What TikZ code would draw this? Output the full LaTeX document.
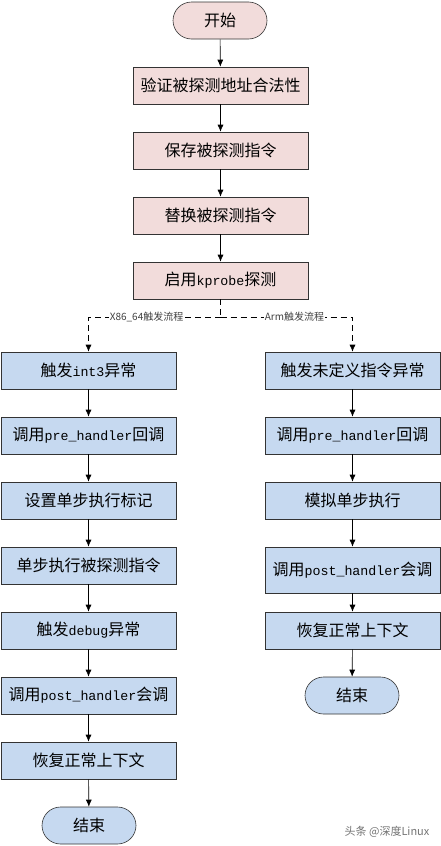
\documentclass[tikz,border=0pt]{standalone}
\usepackage{fontspec}
\setmainfont{Noto Sans CJK SC}
\newfontfamily\monofont{Liberation Mono}
\usetikzlibrary{arrows.meta}
\definecolor{pinkfill}{HTML}{F2DCDB}
\definecolor{bluefill}{HTML}{C6D9F0}
\newcommand{\code}[1]{{\monofont\fontsize{13.3}{16}\selectfont #1}}

\begin{document}
\begin{tikzpicture}%
	[x=1pt, y=-1pt,
	font=\fontsize{16}{19}\selectfont,
	base/.style={draw=black!80, semithick, inner sep=0pt, minimum height=37pt},
	stepbox/.style={base, rectangle, minimum width=175pt},
	termbox/.style={base, rounded corners=18.5pt, minimum width=94pt},
	pinkbox/.style={fill=pinkfill},
	bluebox/.style={fill=bluefill},
	flow/.style={draw=black, semithick, -{Latex[length=7pt,width=6pt]}},
	dashflow/.style={flow, dashed, dash pattern=on 6pt off 4pt},
	branch/.style={fill=white, inner sep=1pt, text=black!75, font=\fontsize{10}{12}\selectfont}]
%
\useasboundingbox (0,0) rectangle (441,846);
%
%% Common part
%%
\node[termbox,pinkbox] (start) at (220, 20.5) {开始};
\node[stepbox,pinkbox] (check) at (220.5, 85.5) {验证被探测地址合法性};
\node[stepbox,pinkbox] (save) at (220.5, 150.5) {保存被探测指令};
\node[stepbox,pinkbox] (replace) at (220.5, 215.5) {替换被探测指令};
\node[stepbox,pinkbox] (enable) at (220.5, 280.5) {启用\code{kprobe}探测};
\coordinate (fork) at (220.5, 317);
%%
%% X86_64 branch
%%
\node[stepbox,bluebox] (xint) at (88.5, 370.5) {触发\code{int3}异常};
\node[stepbox,bluebox] (xpre) at (88.5, 435.5) {调用\code{pre\_handler}回调};
\node[stepbox,bluebox] (xflag) at (88.5, 500.5) {设置单步执行标记};
\node[stepbox,bluebox] (xstep) at (88.5, 565.5) {单步执行被探测指令};
\node[stepbox,bluebox] (xdebug) at (88.5, 630.5) {触发\code{debug}异常};
\node[stepbox,bluebox] (xpost) at (88.5, 695.5) {调用\code{post\_handler}会调};
\node[stepbox,bluebox] (xrestore) at (88.5, 760.5) {恢复正常上下文};
\node[termbox,bluebox] (xend) at (89, 825.5) {结束};
%%
%% Arm branch
%%
\node[stepbox,bluebox] (aund) at (352.5, 370.5) {触发未定义指令异常};
\node[stepbox,bluebox] (apre) at (352.5, 435.5) {调用\code{pre\_handler}回调};
\node[stepbox,bluebox] (asim) at (352.5, 500.5) {模拟单步执行};
\node[stepbox,bluebox,minimum height=46pt] (apost) at (352.5, 570) {调用\code{post\_handler}会调};
\node[stepbox,bluebox] (arestore) at (352.5, 630.5) {恢复正常上下文};
\node[termbox,bluebox] (aend) at (352, 695.5) {结束};
%%
%% Connectors
%%
\draw[flow] (start) -- (check);
\draw[flow] (check) -- (save);
\draw[flow] (save) -- (replace);
\draw[flow] (replace) -- (enable);
\draw[dashflow,-] (enable) -- (fork);
\draw[dashflow] (fork) -| node[branch, pos=0.28] {X86\_64触发流程} (xint);
\draw[dashflow] (fork) -| node[branch, pos=0.28] {Arm触发流程} (aund);
%%
\draw[flow] (xint) -- (xpre);
\draw[flow] (xpre) -- (xflag);
\draw[flow] (xflag) -- (xstep);
\draw[flow] (xstep) -- (xdebug);
\draw[flow] (xdebug) -- (xpost);
\draw[flow] (xpost) -- (xrestore);
\draw[flow] (xrestore) -- (xend);
%%
\draw[flow] (aund) -- (apre);
\draw[flow] (apre) -- (asim);
\draw[flow] (asim) -- (apost);
\draw[flow] (apost) -- (arestore);
\draw[flow] (arestore) -- (aend);
%%
\node[text=black!55, font=\fontsize{11}{13}\selectfont] (mark) at (387, 832) {头条 @深度Linux};
%%
\end{tikzpicture}
\end{document}
